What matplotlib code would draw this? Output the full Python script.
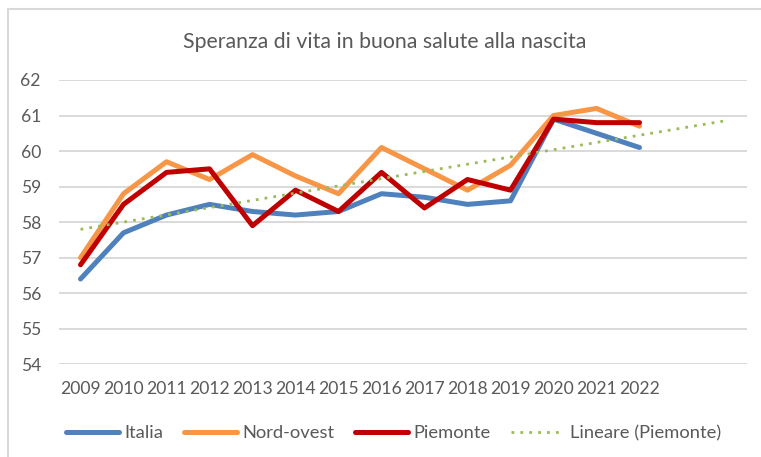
import matplotlib.pyplot as plt
import numpy as np

# Speranza di vita in buona salute alla nascita
years = ["2009", "2010", "2011", "2012", "2013", "2014", "2015",
         "2016", "2017", "2018", "2019", "2020", "2021", "2022"]
italia = [56.4, 57.7, 58.2, 58.5, 58.3, 58.2, 58.3,
          58.8, 58.7, 58.5, 58.6, 60.9, 60.5, 60.1]
nord_ovest = [57.0, 58.8, 59.7, 59.2, 59.9, 59.3, 58.8,
              60.1, 59.5, 58.9, 59.6, 61.0, 61.2, 60.7]
piemonte = [56.8, 58.5, 59.4, 59.5, 57.9, 58.9, 58.3,
            59.4, 58.4, 59.2, 58.9, 60.9, 60.8, 60.8]
forecast = 2  # periodi in avanti per la linea di tendenza

plt.rcParams['font.family'] = ['Lato', 'DejaVu Sans']
grey_txt = "#595959"

fig = plt.figure(figsize=(7.61, 4.57), dpi=100)
# bordo del grafico (stile Excel)
fig.add_artist(plt.Rectangle((8 / 761, -0.1), 1.2, 1 - 9 / 457 + 0.1,
                             transform=fig.transFigure, fill=False,
                             edgecolor="#d9d9d9", lw=1.5))

ax = fig.add_axes([59 / 761, 1 - 364.3 / 457, 688 / 761, 284.3 / 457])

x = np.arange(len(years))
ax.plot(x, italia, color="#4f81bd", lw=3.6, label="Italia", solid_capstyle="round")
ax.plot(x, nord_ovest, color="#f79646", lw=3.6, label="Nord-ovest", solid_capstyle="round")
ax.plot(x, piemonte, color="#c00000", lw=3.6, label="Piemonte", solid_capstyle="round")

# linea di tendenza lineare (Piemonte)
k, q = np.polyfit(x + 1, piemonte, 1)
xt = np.arange(len(years) + forecast)
ax.plot(xt, k * (xt + 1) + q, color="#9bbb59", lw=2, ls=(0, (1, 2.2)),
        label="Lineare (Piemonte)")

ax.set_xlim(-0.5, len(years) + forecast - 0.5)
ax.set_ylim(54, 62)
ax.set_yticks(range(54, 63))
ax.set_xticks(x)
ax.set_xticklabels(years)
ax.tick_params(length=0, labelsize=12.6, labelcolor=grey_txt)
ax.tick_params(axis="y", pad=13)
ax.tick_params(axis="x", pad=12)
ax.grid(axis="y", color="#d9d9d9", lw=1.4)
ax.set_axisbelow(True)
for s in ax.spines.values():
    s.set_visible(False)

fig.text(0.506, 1 - 42 / 457, "Speranza di vita in buona salute alla nascita",
         ha="center", va="center", fontsize=15.3, color=grey_txt)

leg = ax.legend(ncol=4, loc="center left", bbox_to_anchor=(66 / 761, 1 - 433 / 457),
                bbox_transform=fig.transFigure, frameon=False, fontsize=13.2,
                handlelength=2.9, handletextpad=0.3, columnspacing=1.1,
                borderaxespad=0, borderpad=0)
for t in leg.get_texts():
    t.set_color(grey_txt)

fig.savefig("out.png", dpi=100)
